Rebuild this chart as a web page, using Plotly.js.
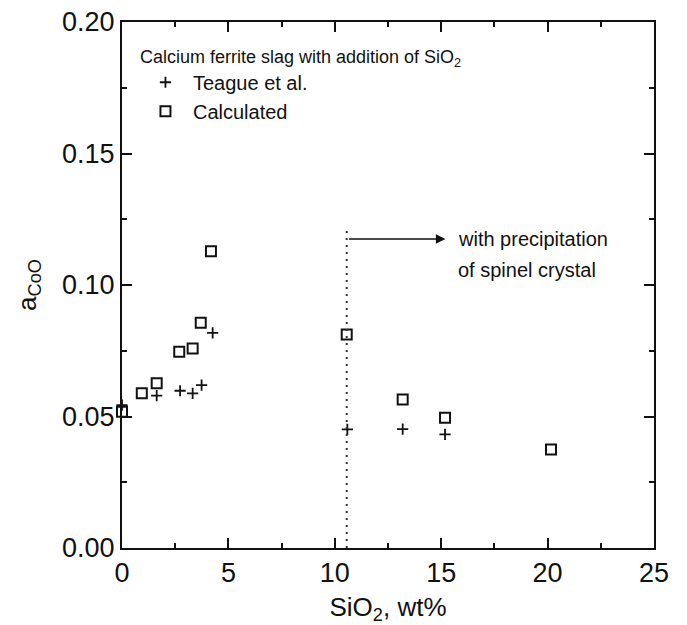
<!DOCTYPE html>
<html>
<head>
<meta charset="utf-8">
<script src="https://cdn.plot.ly/plotly-3.0.1.min.js"></script>
<style>html,body{margin:0;padding:0;background:#fff;}#chart{width:687px;height:625px;}</style>
</head>
<body>
<div id="chart"></div>
<script>
// Calculated (open squares)
const calcX = [0, 0.93, 1.63, 2.69, 3.32, 3.70, 4.18, 10.56, 13.19, 15.18, 20.16];
const calcY = [0.0518, 0.0588, 0.0626, 0.0746, 0.0759, 0.0856, 0.1128, 0.0812, 0.0565, 0.0495, 0.0375];
// Teague et al. (crosses)
const teagueX = [0, 1.63, 2.73, 3.32, 3.74, 4.26, 10.59, 13.19, 15.18];
const teagueY = [0.0543, 0.0579, 0.0598, 0.0588, 0.0619, 0.0818, 0.0451, 0.0452, 0.0432];
// precipitation boundary
const boundaryX = [10.56, 10.56];
const boundaryY = [0, 0.122];
const arrowFromX = 10.6, arrowToX = 15.2, arrowY = 0.1175;
const noteX = 15.7;
const noteLines = ["with precipitation", "of spinel crystal"];
const noteY = [0.1175, 0.1058];
const xTicks = [0, 5, 10, 15, 20, 25];
const yTicks = [0, 0.05, 0.10, 0.15, 0.20];

const FONT = '"Liberation Sans", Arial, Helvetica, sans-serif';

const traces = [
  {
    x: teagueX, y: teagueY, type: 'scatter', mode: 'markers', name: 'Teague et al.',
    cliponaxis: false,
    marker: {symbol: 'cross-thin', size: 8, color: '#111', line: {color: '#111', width: 1.8}}
  },
  {
    x: calcX, y: calcY, type: 'scatter', mode: 'markers', name: 'Calculated',
    cliponaxis: false,
    marker: {symbol: 'square-open', size: 10, color: '#111', line: {color: '#111', width: 2}}
  },
  {
    x: boundaryX, y: boundaryY, type: 'scatter', mode: 'lines', showlegend: false,
    hoverinfo: 'skip',
    line: {color: '#333', width: 2, dash: '2px,5px'}
  }
];

const annotations = [
  {
    x: arrowToX, y: arrowY, ax: arrowFromX, ay: arrowY, axref: 'x', ayref: 'y',
    xref: 'x', yref: 'y', text: '', showarrow: true,
    arrowhead: 2, arrowsize: 1.2, arrowwidth: 1.6, arrowcolor: '#111'
  }
].concat(noteLines.map((t, i) => ({
  x: noteX, y: noteY[i], xref: 'x', yref: 'y', text: t, showarrow: false,
  xanchor: 'left', yanchor: 'middle', font: {family: FONT, size: 20, color: '#111'}
})));

const layout = {
  width: 687, height: 625,
  margin: {l: 122, r: 33, t: 22, b: 77},
  paper_bgcolor: '#fff', plot_bgcolor: '#fff',
  font: {family: FONT, color: '#111'},
  showlegend: true,
  legend: {
    x: 0.03, y: 0.967, xanchor: 'left', yanchor: 'top',
    bgcolor: 'rgba(0,0,0,0)', borderwidth: 0,
    font: {family: FONT, size: 20, color: '#111'},
    title: {text: 'Calcium ferrite slag with addition of SiO<sub>2</sub>', font: {family: FONT, size: 18, color: '#111'}},
    tracegroupgap: 0, itemwidth: 45
  },
  xaxis: {
    range: [0, 25], tickvals: xTicks, ticktext: xTicks.map(String),
    ticks: 'inside', ticklen: 10, tickwidth: 2, tickcolor: '#111',
    minor: {dtick: 2.5, ticks: 'inside', ticklen: 5, tickwidth: 2, tickcolor: '#111'},
    showline: true, linewidth: 2, linecolor: '#111', mirror: 'ticks',
    showgrid: false, zeroline: false,
    tickfont: {family: FONT, size: 27, color: '#111'},
    title: {text: 'SiO<sub>2</sub>, wt%', font: {family: FONT, size: 26, color: '#111'}, standoff: 10}
  },
  yaxis: {
    range: [0, 0.2], tickvals: yTicks, ticktext: yTicks.map(v => v.toFixed(2)),
    ticks: 'inside', ticklen: 10, tickwidth: 2, tickcolor: '#111',
    minor: {dtick: 0.025, ticks: 'inside', ticklen: 5, tickwidth: 2, tickcolor: '#111'},
    showline: true, linewidth: 2, linecolor: '#111', mirror: 'ticks',
    showgrid: false, zeroline: false,
    tickfont: {family: FONT, size: 27, color: '#111'},
    title: {text: 'a<sub>CoO</sub>', font: {family: FONT, size: 26, color: '#111'}, standoff: 18}
  },
  annotations: annotations
};

Plotly.newPlot('chart', traces, layout, {displayModeBar: false, staticPlot: true});
</script>
</body>
</html>
